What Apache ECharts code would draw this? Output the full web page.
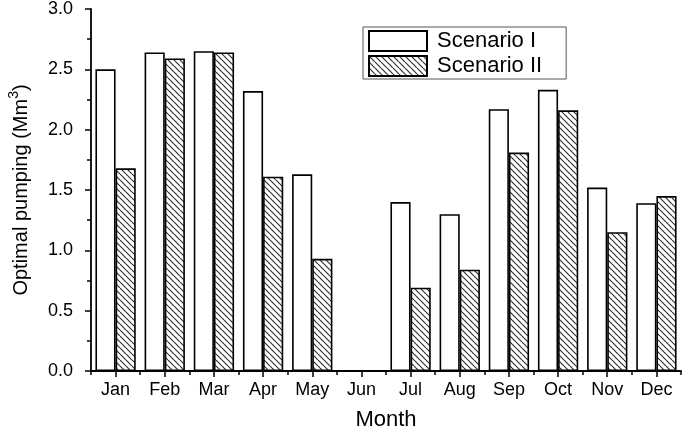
<!DOCTYPE html>
<html>
<head>
<meta charset="utf-8">
<script src="https://cdn.jsdelivr.net/npm/echarts@6/dist/echarts.min.js"></script>
<style>
html,body{margin:0;padding:0;background:#fff;}
#c{width:685px;height:429px;}
</style>
</head>
<body>
<div id="c"></div>
<script>
const months = ['Jan','Feb','Mar','Apr','May','Jun','Jul','Aug','Sep','Oct','Nov','Dec'];
const scenarioI  = [2.50, 2.64, 2.65, 2.32, 1.63, 0, 1.40, 1.30, 2.17, 2.33, 1.52, 1.39];
const scenarioII = [1.68, 2.59, 2.64, 1.61, 0.93, 0, 0.69, 0.84, 1.81, 2.16, 1.15, 1.45];
const yTicks = [0, 0.5, 1.0, 1.5, 2.0, 2.5, 3.0];

function hatch() {
  const s = 6;
  const cv = document.createElement('canvas');
  cv.width = s; cv.height = s;
  const g = cv.getContext('2d');
  g.fillStyle = '#ffffff';
  g.fillRect(0, 0, s, s);
  g.strokeStyle = '#333333';
  g.lineWidth = 1.2;
  for (const k of [-s, 0, s]) {
    g.beginPath();
    g.moveTo(k, 0);
    g.lineTo(k + s, s);
    g.stroke();
  }
  return cv;
}

const FONT = '"Liberation Sans", Arial, sans-serif';
const chart = echarts.init(document.getElementById('c'), null, {renderer: 'canvas'});
chart.setOption({
  animation: false,
  backgroundColor: '#ffffff',
  textStyle: {fontFamily: FONT, color: '#000'},
  grid: {left: 91, right: 4, top: 9, bottom: 58, containLabel: false, outerBoundsMode: 'none'},
  legend: {
    orient: 'vertical',
    left: 363, top: 27,
    itemWidth: 58, itemHeight: 20,
    itemGap: 3,
    padding: [3, 24, 2, 5],
    borderColor: '#555',
    borderWidth: 1,
    icon: 'rect',
    textStyle: {fontFamily: FONT, fontSize: 22, color: '#000', padding: [0, 0, 0, 5]},
    data: ['Scenario I', 'Scenario II']
  },
  xAxis: [{
    type: 'category',
    data: months,
    boundaryGap: true,
    name: 'Month',
    nameLocation: 'middle',
    nameGap: 38,
    nameTextStyle: {fontFamily: FONT, fontSize: 22, color: '#000'},
    axisLine: {show: true, lineStyle: {color: '#000', width: 1.8}},
    axisTick: {show: true, alignWithLabel: true, length: 6, lineStyle: {color: '#000', width: 1.5}},
    axisLabel: {fontFamily: FONT, fontSize: 18, color: '#000', margin: 10, interval: 0},
    splitLine: {show: false}
  }, {
    type: 'category',
    data: months,
    position: 'bottom',
    offset: 0,
    boundaryGap: true,
    axisLine: {show: false},
    axisTick: {show: true, interval: 0, length: 4, lineStyle: {color: '#000', width: 1.5}},
    axisLabel: {show: false},
    splitLine: {show: false}
  }],
  yAxis: {
    type: 'value',
    min: yTicks[0],
    max: yTicks[yTicks.length - 1],
    interval: 0.5,
    name: '{a|Optimal pumping (Mm}{s|3}{a|)}',
    nameLocation: 'middle',
    nameRotate: 90,
    nameGap: 60,
    nameTextStyle: {
      rich: {
        a: {fontFamily: FONT, fontSize: 20, color: '#000', lineHeight: 24, verticalAlign: 'bottom'},
        s: {fontFamily: FONT, fontSize: 14, color: '#000', lineHeight: 24, verticalAlign: 'top', padding: [0, 0, 8, 0]}
      }
    },
    axisLine: {show: true, lineStyle: {color: '#000', width: 1.8}},
    axisTick: {show: true, inside: false, length: 6, lineStyle: {color: '#000', width: 1.5}},
    minorTick: {show: true, splitNumber: 2, length: 4, lineStyle: {color: '#000', width: 1.5}},
    axisLabel: {fontFamily: FONT, fontSize: 18, color: '#000', margin: 18,
      formatter: v => v.toFixed(1)},
    splitLine: {show: false}
  },
  series: [{
    name: 'Scenario I',
    type: 'bar',
    data: scenarioI,
    barGap: '0%',
    barCategoryGap: '18%',
    itemStyle: {color: '#ffffff', borderColor: '#000', borderWidth: 1.6}
  }, {
    name: 'Scenario II',
    type: 'bar',
    data: scenarioII,
    barGap: '0%',
    barCategoryGap: '18%',
    itemStyle: {color: {image: hatch(), repeat: 'repeat'}, borderColor: '#000', borderWidth: 1.6}
  }]
});
</script>
</body>
</html>
